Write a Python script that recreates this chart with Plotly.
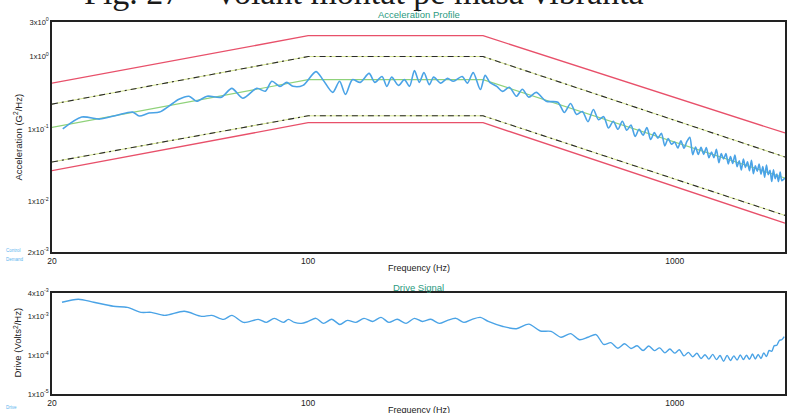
import plotly.graph_objects as go

# ---------------- Acceleration profile data ----------------
acc_freq = [21.4, 24.1, 27, 30.1, 33.2, 34.6, 36.8, 39.3, 41.7, 44.4, 47.3, 49.6, 53, 58, 61.9, 66.3,
            72.4, 76.4, 79.6, 83.8, 87.4, 90.9, 96.8, 105, 109.7, 116.7, 121.8, 126.4, 132, 138.7,
            146.6, 152, 159, 164, 169, 176.4, 183, 189, 195, 201, 207, 214, 220, 230, 240, 249,
            263, 272, 282, 295, 304, 313, 327, 339, 354, 370, 384, 400, 419, 446,
            480, 500, 520, 540, 560, 580, 600, 620, 640, 660, 680, 700, 720, 740, 760, 780,
            800, 820, 840, 860, 880, 900, 920, 940, 960, 980, 1000, 1020, 1040, 1060, 1080,
            1100, 1120, 1140, 1160, 1180, 1200, 1220, 1240, 1260, 1280, 1300, 1320, 1340,
            1360, 1380, 1400, 1420, 1440, 1460, 1480, 1500, 1520, 1540, 1560, 1580, 1600,
            1620, 1640, 1660, 1680, 1700, 1720, 1740, 1760, 1780, 1800, 1820, 1840, 1860,
            1880, 1900, 1920, 1940, 1960, 1980, 2000]
acc_control = [0.1, 0.146, 0.137, 0.155, 0.171, 0.151, 0.166, 0.171, 0.207, 0.257, 0.283, 0.242,
               0.283, 0.275, 0.364, 0.266, 0.364, 0.332, 0.455, 0.388, 0.44, 0.388, 0.40, 0.62,
               0.48, 0.32, 0.455, 0.30, 0.48, 0.44, 0.585, 0.44, 0.53, 0.388, 0.52, 0.40, 0.48,
               0.388, 0.64, 0.44, 0.60, 0.41, 0.52, 0.43, 0.50, 0.455, 0.53, 0.43, 0.60, 0.35,
               0.55, 0.44, 0.388, 0.33, 0.376, 0.283, 0.353, 0.275, 0.32, 0.242,
               0.234, 0.169, 0.225, 0.159, 0.174, 0.126, 0.186, 0.134, 0.148, 0.103, 0.128,
               0.099, 0.128, 0.096, 0.113, 0.079, 0.099, 0.082, 0.105, 0.0715, 0.089, 0.0744,
               0.087, 0.0584, 0.074, 0.0615, 0.066, 0.0545, 0.0684, 0.0543, 0.0673, 0.0768,
               0.0442, 0.0564, 0.0444, 0.0559, 0.0446, 0.0555, 0.040, 0.0481, 0.0402, 0.0523,
               0.0341, 0.0457, 0.0386, 0.0456, 0.033, 0.0417, 0.0334, 0.0435, 0.0302, 0.0364,
               0.0272, 0.0383, 0.0294, 0.0352, 0.0266, 0.0369, 0.0241, 0.0311, 0.0261, 0.0328,
               0.0237, 0.0302, 0.0215, 0.0318, 0.0234, 0.0268, 0.0188, 0.0272, 0.0206, 0.0239,
               0.0188, 0.0254, 0.0193, 0.0201, 0.0209]

profile_freq = [20, 100, 300, 2000]
profile_demand = [0.105, 0.48, 0.48, 0.021]
abort_high = [0.43, 1.94, 1.94, 0.088]
abort_low = [0.0266, 0.122, 0.122, 0.005]
warn_high = [0.22, 1.0, 1.0, 0.041]
warn_low = [0.035, 0.152, 0.152, 0.0064]

# ---------------- Drive signal data ----------------
drive_freq = [21.3, 23.6, 26.0, 29.4, 32.1, 35.0, 37.3, 40.6, 45.9, 51.2, 54.6, 58.8, 61.9, 66.7,
              73.1, 76.9, 80.8, 85.6, 88.3, 91.7, 95.8, 100, 105, 110, 116, 122, 128, 135, 142,
              150, 158, 166, 175, 185, 195, 205, 216, 228, 240, 253, 266, 280, 295, 310,
              340, 370, 400, 430, 460, 490, 520, 550, 580, 610, 640, 670, 700, 730, 760, 790,
              820, 850, 880, 910, 940, 970, 1000, 1030, 1060, 1090, 1120, 1150, 1180, 1210,
              1240, 1270, 1300, 1330, 1360, 1390, 1420, 1450, 1480, 1510, 1540, 1570, 1600,
              1630, 1660, 1690, 1720, 1750, 1780, 1810, 1840, 1870, 1900, 1930, 1960, 1990]
drive_values = [0.00231, 0.00277, 0.00231, 0.00182, 0.00171, 0.00127, 0.00127, 0.00106, 0.00135,
                0.001, 0.00106, 0.000836, 0.00106, 0.000699, 0.000836, 0.000699, 0.000887,
                0.000699, 0.000836, 0.000699, 0.00066, 0.00074, 0.00089, 0.00066, 0.00084,
                0.00062, 0.00079, 0.0007, 0.00089, 0.00074, 0.00094, 0.0007, 0.00084, 0.00066,
                0.00089, 0.00074, 0.00084, 0.00066, 0.00079, 0.00089, 0.0007, 0.00084, 0.00094,
                0.00074,
                0.00055, 0.00048, 0.00063, 0.00042, 0.00041, 0.00029, 0.00036, 0.00025, 0.00029,
                0.00034, 0.00019, 0.00021, 0.000151, 0.000197, 0.000149, 0.000175, 0.000132,
                0.000173, 0.000131, 0.000154, 0.000115, 0.000144, 0.000113, 0.000138, 0.000096,
                0.000118, 0.000091, 0.000112, 0.000082, 0.000103, 0.000079, 0.000105, 0.000077,
                0.000098, 0.000070, 0.000099, 0.000073, 0.000096, 0.000075, 0.000102, 0.000077,
                0.000100, 0.000078, 0.000107, 0.000080, 0.000105, 0.000082, 0.000115, 0.000092,
                0.000132, 0.000126, 0.000176, 0.00018, 0.00024, 0.00025, 0.00030]

x_ticks = [20, 100, 1000, 2000]
x_labels = ["20", "100", "1000", "2000"]
acc_ticks = [3, 1, 0.1, 0.01, 0.002]
acc_labels = ["3x10<sup>0</sup>", "1x10<sup>0</sup>", "1x10<sup>-1</sup>", "1x10<sup>-2</sup>", "2x10<sup>-3</sup>"]
drive_ticks = [4e-3, 1e-3, 1e-4, 1e-5]
drive_labels = ["4x10<sup>-3</sup>", "1x10<sup>-3</sup>", "1x10<sup>-4</sup>", "1x10<sup>-5</sup>"]

RED = "#e8506a"
BLUE = "#4aa3e6"
GREEN = "#8fd27a"
TEAL = "#2a9a80"
FONT = "Liberation Sans"

fig = go.Figure()

# abort limits
for ys in (abort_high, abort_low):
    fig.add_trace(go.Scatter(x=profile_freq, y=ys, mode="lines", line=dict(color=RED, width=1.3),
                             xaxis="x", yaxis="y", showlegend=False, hoverinfo="skip"))
# warning limits: yellow-green underlay + black dash-dot
for ys in (warn_high, warn_low):
    fig.add_trace(go.Scatter(x=profile_freq, y=ys, mode="lines", line=dict(color="#d3e38c", width=1.0),
                             xaxis="x", yaxis="y", showlegend=False, hoverinfo="skip"))
    fig.add_trace(go.Scatter(x=profile_freq, y=ys, mode="lines",
                             line=dict(color="#2a2a2a", width=1.1, dash="6px,4px,2px,4px"),
                             xaxis="x", yaxis="y", showlegend=False, hoverinfo="skip"))
# demand profile
fig.add_trace(go.Scatter(x=profile_freq, y=profile_demand, mode="lines", line=dict(color=GREEN, width=1.2),
                         xaxis="x", yaxis="y", showlegend=False, hoverinfo="skip"))
# control
fig.add_trace(go.Scatter(x=acc_freq, y=acc_control, mode="lines",
                         line=dict(color=BLUE, width=1.6, shape="spline", smoothing=0.8),
                         xaxis="x", yaxis="y", showlegend=False))
# drive
fig.add_trace(go.Scatter(x=drive_freq, y=drive_values, mode="lines",
                         line=dict(color=BLUE, width=1.4, shape="spline", smoothing=0.8),
                         xaxis="x2", yaxis="y2", showlegend=False))

axis_common = dict(type="log", showgrid=False, zeroline=False, showline=True, linecolor="#222",
                   linewidth=1.5, mirror=True, ticks="", tickfont=dict(family=FONT, size=8.5, color="#222"))

fig.update_layout(
    width=787, height=413,
    margin=dict(l=52, r=0, t=22, b=19),
    paper_bgcolor="white", plot_bgcolor="white",
    font=dict(family=FONT, color="#222"),
    xaxis=dict(axis_common, range=[1.30103, 3.30103], domain=[0, 1], anchor="y",
               tickvals=x_ticks, ticktext=x_labels),
    yaxis=dict(axis_common, range=[-2.69897, 0.47712], domain=[0.3817, 1], anchor="x",
               tickvals=acc_ticks, ticktext=acc_labels, tickfont=dict(family=FONT, size=7.5, color="#222")),
    xaxis2=dict(axis_common, range=[1.30103, 3.30103], domain=[0, 1], anchor="y2",
                tickvals=x_ticks, ticktext=x_labels),
    yaxis2=dict(axis_common, range=[-5, -2.39794], domain=[0, 0.2715], anchor="x2",
                tickvals=drive_ticks, ticktext=drive_labels, tickfont=dict(family=FONT, size=7.5, color="#222")),
)

ann = [
    dict(text="Fig. 27 – Volant montat pe masa vibranta", x=0.425, y=1.013, yshift=4,
         xref="paper", yref="paper", xanchor="center", yanchor="bottom", showarrow=False,
         font=dict(family="Liberation Serif", size=34, color="#1a1a1a")),
    dict(text="Acceleration Profile", x=0.5, y=1.0, yshift=0, xref="paper", yref="paper",
         xanchor="center", yanchor="bottom", showarrow=False, font=dict(family=FONT, size=9.5, color=TEAL)),
    dict(text="Frequency (Hz)", x=0.5, y=0.3387, xref="paper", yref="paper",
         xanchor="center", yanchor="middle", showarrow=False, font=dict(family=FONT, size=9, color="#222")),
    dict(text="Drive Signal", x=0.5, y=0.2876, xref="paper", yref="paper",
         xanchor="center", yanchor="middle", showarrow=False, font=dict(family=FONT, size=9.5, color=TEAL)),
    dict(text="Frequency (Hz)", x=0.5, y=-0.043, xref="paper", yref="paper",
         xanchor="center", yanchor="middle", showarrow=False, font=dict(family=FONT, size=9, color="#222")),
    dict(text="Acceleration (G<sup>2</sup>/Hz)", x=-0.047, y=0.691, xref="paper", yref="paper",
         xanchor="center", yanchor="middle", textangle=-90, showarrow=False,
         font=dict(family=FONT, size=9.5, color="#222")),
    dict(text="Drive (Volts<sup>2</sup>/Hz)", x=-0.047, y=0.137, xref="paper", yref="paper",
         xanchor="center", yanchor="middle", textangle=-90, showarrow=False,
         font=dict(family=FONT, size=9.5, color="#222")),
    dict(text="Control", x=-0.066, y=0.385, xref="paper", yref="paper",
         xanchor="left", yanchor="middle", showarrow=False, font=dict(family=FONT, size=4.5, color="#5ab4ee")),
    dict(text="Demand", x=-0.066, y=0.362, xref="paper", yref="paper",
         xanchor="left", yanchor="middle", showarrow=False, font=dict(family=FONT, size=4.5, color="#5ab4ee")),
    dict(text="Drive", x=-0.066, y=-0.037, xref="paper", yref="paper",
         xanchor="left", yanchor="middle", showarrow=False, font=dict(family=FONT, size=4.5, color="#5ab4ee")),
]
fig.update_layout(annotations=ann)

fig.write_html("out.html")
